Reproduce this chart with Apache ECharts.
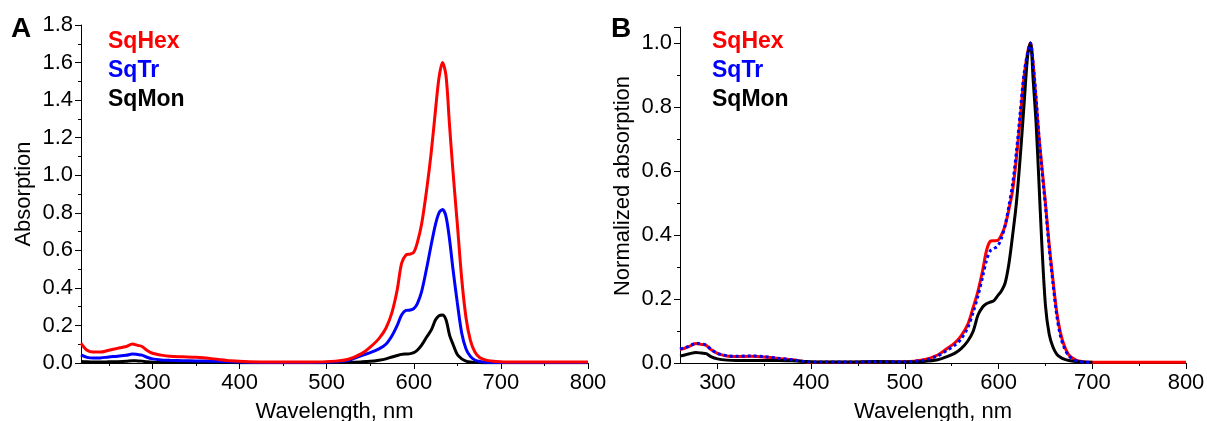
<!DOCTYPE html>
<html>
<head>
<meta charset="utf-8">
<script src="https://cdn.jsdelivr.net/npm/echarts@6/dist/echarts.min.js"></script>
<style>
  html, body { margin: 0; padding: 0; background: #fff; }
  #chart { width: 1207px; height: 421px; }
</style>
</head>
<body>
<div id="chart"></div>
<script>
// panel A - absorption spectra
var wlA = [218, 225, 232, 240, 250, 260, 270, 277, 283, 288, 293, 300, 310, 320, 335, 350, 370, 390, 410, 440, 480, 510, 525, 540, 550, 560, 568, 575, 581, 586, 591, 596, 600, 604, 609, 615, 620, 625, 629, 633, 637, 641, 645, 650, 655, 660, 665, 670, 676, 684, 695, 710, 750, 800];
var hexA = [0.105, 0.068, 0.058, 0.058, 0.068, 0.078, 0.088, 0.101, 0.094, 0.088, 0.07, 0.052, 0.042, 0.036, 0.033, 0.03, 0.022, 0.012, 0.007, 0.005, 0.005, 0.01, 0.02, 0.05, 0.085, 0.13, 0.185, 0.27, 0.39, 0.53, 0.575, 0.58, 0.59, 0.64, 0.74, 0.93, 1.12, 1.35, 1.52, 1.6, 1.53, 1.27, 1.02, 0.74, 0.45, 0.24, 0.12, 0.06, 0.028, 0.014, 0.008, 0.005, 0.005, 0.005];
var trA = [0.043, 0.03, 0.026, 0.027, 0.032, 0.036, 0.041, 0.048, 0.045, 0.042, 0.032, 0.022, 0.016, 0.014, 0.012, 0.011, 0.009, 0.006, 0.004, 0.003, 0.003, 0.006, 0.014, 0.04, 0.055, 0.075, 0.1, 0.145, 0.2, 0.255, 0.28, 0.282, 0.29, 0.315, 0.38, 0.51, 0.63, 0.74, 0.8, 0.817, 0.78, 0.66, 0.5, 0.32, 0.16, 0.075, 0.035, 0.016, 0.008, 0.004, 0.003, 0.002, 0.002, 0.002];
var monA = [0.008, 0.006, 0.005, 0.005, 0.006, 0.007, 0.009, 0.012, 0.011, 0.01, 0.007, 0.004, 0.003, 0.003, 0.003, 0.003, 0.002, 0.002, 0.001, 0.001, 0.001, 0.002, 0.003, 0.006, 0.009, 0.015, 0.022, 0.032, 0.04, 0.046, 0.048, 0.05, 0.055, 0.068, 0.095, 0.14, 0.175, 0.23, 0.252, 0.255, 0.23, 0.15, 0.1, 0.045, 0.022, 0.01, 0.005, 0.003, 0.002, 0.001, 0.001, 0.001, 0.001, 0.001];

// panel B - normalized absorption
var wlB = [260, 265, 270, 277, 283, 288, 293, 300, 310, 320, 335, 350, 365, 380, 395, 410, 440, 470, 500, 520, 535, 545, 553, 560, 567, 573, 578, 583, 587, 591, 595, 599, 603, 607, 611, 615, 619, 623, 627, 631, 634, 637, 640, 643, 646, 650, 654, 658, 662, 666, 670, 675, 682, 690, 700, 750, 800];
var hexB = [0.042, 0.046, 0.052, 0.061, 0.058, 0.055, 0.042, 0.03, 0.022, 0.02, 0.021, 0.019, 0.014, 0.01, 0.003, 0.002, 0.002, 0.004, 0.004, 0.01, 0.025, 0.045, 0.062, 0.085, 0.12, 0.175, 0.225, 0.29, 0.35, 0.38, 0.382, 0.383, 0.4, 0.43, 0.48, 0.54, 0.64, 0.76, 0.89, 0.97, 1.0, 0.93, 0.82, 0.71, 0.62, 0.5, 0.37, 0.26, 0.16, 0.095, 0.055, 0.025, 0.01, 0.004, 0.002, 0.002, 0.002];
var trB = [0.044, 0.048, 0.053, 0.062, 0.059, 0.056, 0.043, 0.03, 0.023, 0.021, 0.022, 0.02, 0.015, 0.01, 0.004, 0.003, 0.003, 0.004, 0.004, 0.009, 0.022, 0.04, 0.055, 0.075, 0.11, 0.16, 0.21, 0.27, 0.32, 0.35, 0.358, 0.365, 0.39, 0.43, 0.49, 0.56, 0.66, 0.78, 0.9, 0.97, 1.0, 0.93, 0.83, 0.71, 0.61, 0.49, 0.36, 0.25, 0.15, 0.085, 0.048, 0.022, 0.008, 0.003, 0.002];
var monB = [0.022, 0.025, 0.029, 0.033, 0.031, 0.029, 0.02, 0.013, 0.009, 0.008, 0.008, 0.008, 0.008, 0.007, 0.005, 0.003, 0.003, 0.005, 0.003, 0.005, 0.01, 0.02, 0.03, 0.045, 0.068, 0.1, 0.15, 0.175, 0.185, 0.19, 0.195, 0.21, 0.225, 0.25, 0.31, 0.4, 0.5, 0.64, 0.8, 0.96, 1.0, 0.88, 0.75, 0.57, 0.38, 0.18, 0.09, 0.05, 0.028, 0.018, 0.012, 0.008, 0.005, 0.003, 0.002];

var names = ['SqHex', 'SqTr', 'SqMon'];
var colors = ['#ff0000', '#0000ff', '#000000'];
var xLabels = [300, 400, 500, 600, 700, 800];
var xMinor = [250, 350, 450, 550, 650, 750];

var font = 'Liberation Sans, Arial, sans-serif';

function pairs(xs, ys) {
    var out = [];
    for (var i = 0; i < ys.length; i++) {
        out.push([xs[i], ys[i]]);
    }
    return out;
}

function mainX(grid, min) {
    return {
        type: 'value', gridIndex: grid, min: min, max: 800,
        name: 'Wavelength, nm', nameLocation: 'middle', nameGap: 38,
        nameTextStyle: { fontFamily: font, fontSize: 22, color: '#000' },
        axisLine: { lineStyle: { color: '#000', width: 1 } },
        axisTick: { customValues: xLabels, length: 6, lineStyle: { color: '#000' } },
        axisLabel: { customValues: xLabels, margin: 9, fontFamily: font, fontSize: 22, color: '#000' },
        splitLine: { show: false }
    };
}

function minorX(grid, min) {
    return {
        type: 'value', gridIndex: grid, min: min, max: 800, position: 'bottom',
        axisLine: { show: false },
        axisTick: { customValues: xMinor, length: 3, lineStyle: { color: '#000' } },
        axisLabel: { show: false },
        splitLine: { show: false }
    };
}

function yAxis(grid, max, title, shift) {
    return {
        type: 'value', gridIndex: grid, min: 0, max: max, interval: 0.2,
        name: title, nameLocation: 'middle', nameGap: 46,
        nameTextStyle: { fontFamily: font, fontSize: 22, color: '#000', padding: [0, 0, 0, shift] },
        axisLine: { show: true, lineStyle: { color: '#000', width: 1 } },
        axisTick: { show: true, length: 6, lineStyle: { color: '#000' } },
        minorTick: { show: true, splitNumber: 2, length: 3, lineStyle: { color: '#000' } },
        axisLabel: {
            margin: 8, fontFamily: font, fontSize: 22, color: '#000', showMaxLabel: max === 1.8,
            formatter: function (v) { return v.toFixed(1); }
        },
        splitLine: { show: false }
    };
}

function line(name, x, y, data, color, dotted) {
    return {
        name: name, type: 'line', xAxisIndex: x, yAxisIndex: y,
        data: data, showSymbol: false, smooth: 0.3,
        lineStyle: { color: color, width: 3, type: dotted ? [3, 3] : 'solid' },
        itemStyle: { color: color }
    };
}

function legend(left) {
    return {
        left: left, top: 30, orient: 'vertical', icon: 'none', itemWidth: 0, itemGap: 6,
        padding: 0, selectedMode: false,
        textStyle: { fontFamily: font, fontSize: 23, fontWeight: 'bold' },
        data: names.map(function (n, i) {
            return { name: n, textStyle: { color: colors[i] } };
        })
    };
}

var option = {
    animation: false,
    backgroundColor: '#fff',
    title: [
        { text: 'A', left: 11, top: 15, padding: 0, textStyle: { fontFamily: font, fontSize: 28, fontWeight: 'bold', color: '#000' } },
        { text: 'B', left: 611, top: 15, padding: 0, textStyle: { fontFamily: font, fontSize: 28, fontWeight: 'bold', color: '#000' } }
    ],
    legend: [legend(103), legend(707)],
    grid: [
        { left: 81, right: 619, top: 25, bottom: 58, outerBoundsMode: 'none' },
        { left: 680, right: 21, top: 27, bottom: 58, outerBoundsMode: 'none' }
    ],
    xAxis: [mainX(0, 218), minorX(0, 218), mainX(1, 260), minorX(1, 260)],
    yAxis: [yAxis(0, 1.8, 'Absorption', 0), yAxis(1, 1.05, 'Normalized absorption', 18)],
    series: [
        line('SqMon', 0, 0, pairs(wlA, monA), colors[2]),
        line('SqTr', 0, 0, pairs(wlA, trA), colors[1]),
        line('SqHex', 0, 0, pairs(wlA, hexA), colors[0]),
        line('SqHex', 2, 1, pairs(wlB, hexB), colors[0]),
        line('SqMon', 2, 1, pairs(wlB, monB), colors[2]),
        line('SqTr', 2, 1, pairs(wlB, trB), colors[1], true)
    ]
};

var chart = echarts.init(document.getElementById('chart'));
chart.setOption(option);
</script>
</body>
</html>
